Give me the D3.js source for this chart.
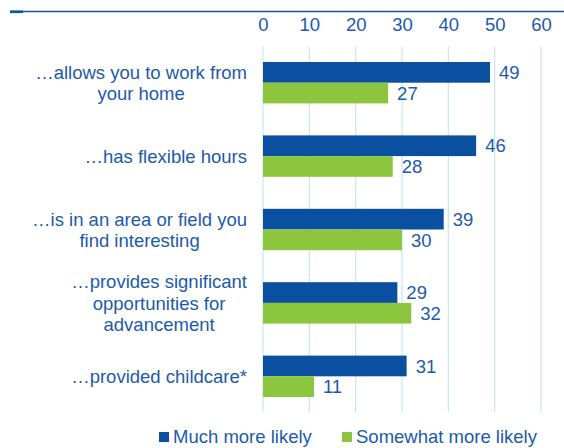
<!DOCTYPE html>
<html>
<head>
<meta charset="utf-8">
<script src="https://cdn.jsdelivr.net/npm/d3@7"></script>
<style>
  html, body { margin: 0; padding: 0; background: #fff; }
  svg { display: block; }
  text { font-family: "Liberation Sans", Arial, sans-serif; }
</style>
</head>
<body>
<svg id="chart" width="564" height="448"></svg>
<script>
// Job features and share of respondents (%) more likely to take the job
const categories = [
  ["…allows you to work from", "your home"],
  ["…has flexible hours"],
  ["…is in an area or field you", "find interesting"],
  ["…provides significant", "opportunities for", "advancement"],
  ["…provided childcare*"]
];
const seriesNames = ["Much more likely", "Somewhat more likely"];
const muchMoreLikely = [49, 46, 39, 29, 31];
const somewhatMoreLikely = [27, 28, 30, 32, 11];
const tickValues = [0, 10, 20, 30, 40, 50, 60];

const colors = ["#0b4fa0", "#8cc63f"];
const textColor = "#1d5aaa";
const gridColor = "#c8e6f5";
const fontSize = 18.5;

const svg = d3.select("#chart");

const x = d3.scaleLinear().domain([0, 60]).range([263, 541]);
const y = d3.scaleBand()
  .domain(d3.range(categories.length))
  .range([46, 413])
  .paddingInner(0.436)
  .paddingOuter(0.218);
const ySub = d3.scaleBand()
  .domain([0, 1])
  .range([0, y.bandwidth()]);

// rule across the top
svg.append("line")
  .attr("x1", 10).attr("x2", 564)
  .attr("y1", 11.5).attr("y2", 11.5)
  .attr("stroke", "#1f4f8f").attr("stroke-width", 1.3);
svg.append("rect")
  .attr("x", 10).attr("y", 10.5)
  .attr("width", 13).attr("height", 2.6)
  .attr("fill", "#0b55a8");

// value axis on top, with vertical gridlines
const axis = d3.axisTop(x).tickValues(tickValues).tickSize(0).tickPadding(0);
const axisG = svg.append("g").attr("transform", "translate(0,31)").call(axis);
axisG.select(".domain").remove();
axisG.selectAll("text")
  .attr("fill", textColor)
  .attr("font-size", fontSize)
  .attr("dy", 0)
  .attr("font-family", "Liberation Sans, Arial, sans-serif");

svg.append("g")
  .selectAll("line")
  .data(tickValues)
  .join("line")
  .attr("x1", d => x(d)).attr("x2", d => x(d))
  .attr("y1", 46.5).attr("y2", 412)
  .attr("stroke", gridColor).attr("stroke-width", 1.2);

// bars
const series = [muchMoreLikely, somewhatMoreLikely];
const rows = categories.map((c, i) => ({ i, values: series.map(s => s[i]) }));

const groups = svg.append("g")
  .selectAll("g")
  .data(rows)
  .join("g")
  .attr("transform", d => `translate(0,${y(d.i)})`);

groups.selectAll("rect")
  .data(d => d.values.map((v, k) => ({ v, k })))
  .join("rect")
  .attr("x", x(0))
  .attr("y", d => ySub(d.k))
  .attr("width", d => x(d.v) - x(0))
  .attr("height", ySub.bandwidth())
  .attr("fill", d => colors[d.k]);

groups.selectAll("text.value")
  .data(d => d.values.map((v, k) => ({ v, k })))
  .join("text")
  .attr("class", "value")
  .attr("x", d => x(d.v) + 9)
  .attr("y", d => ySub(d.k) + ySub.bandwidth() / 2)
  .attr("dy", "0.36em")
  .attr("fill", textColor)
  .attr("font-size", fontSize)
  .text(d => d.v);

// category labels: block right-aligned, lines centred within it
const lineH = 21.2;
const labelRight = 247;
categories.forEach((lines, i) => {
  const cy = y(i) + y.bandwidth() / 2;
  const t = svg.append("text")
    .attr("fill", textColor)
    .attr("font-size", fontSize)
    .attr("text-anchor", "middle");
  const spans = lines.map((ln, j) =>
    t.append("tspan")
      .attr("y", cy + (j - (lines.length - 1) / 2) * lineH)
      .attr("dy", "0.36em")
      .text(ln)
  );
  const maxW = d3.max(spans, s => s.node().getComputedTextLength());
  spans.forEach(s => s.attr("x", labelRight - maxW / 2));
});

// legend
const legendItems = [
  { name: seriesNames[0], color: colors[0], x: 159 },
  { name: seriesNames[1], color: colors[1], x: 342 }
];
const legend = svg.append("g");
legendItems.forEach(item => {
  legend.append("rect")
    .attr("x", item.x).attr("y", 432)
    .attr("width", 10).attr("height", 10)
    .attr("fill", item.color);
  legend.append("text")
    .attr("x", item.x + 14).attr("y", 443)
    .attr("fill", textColor)
    .attr("font-size", fontSize)
    .text(item.name);
});
</script>
</body>
</html>
